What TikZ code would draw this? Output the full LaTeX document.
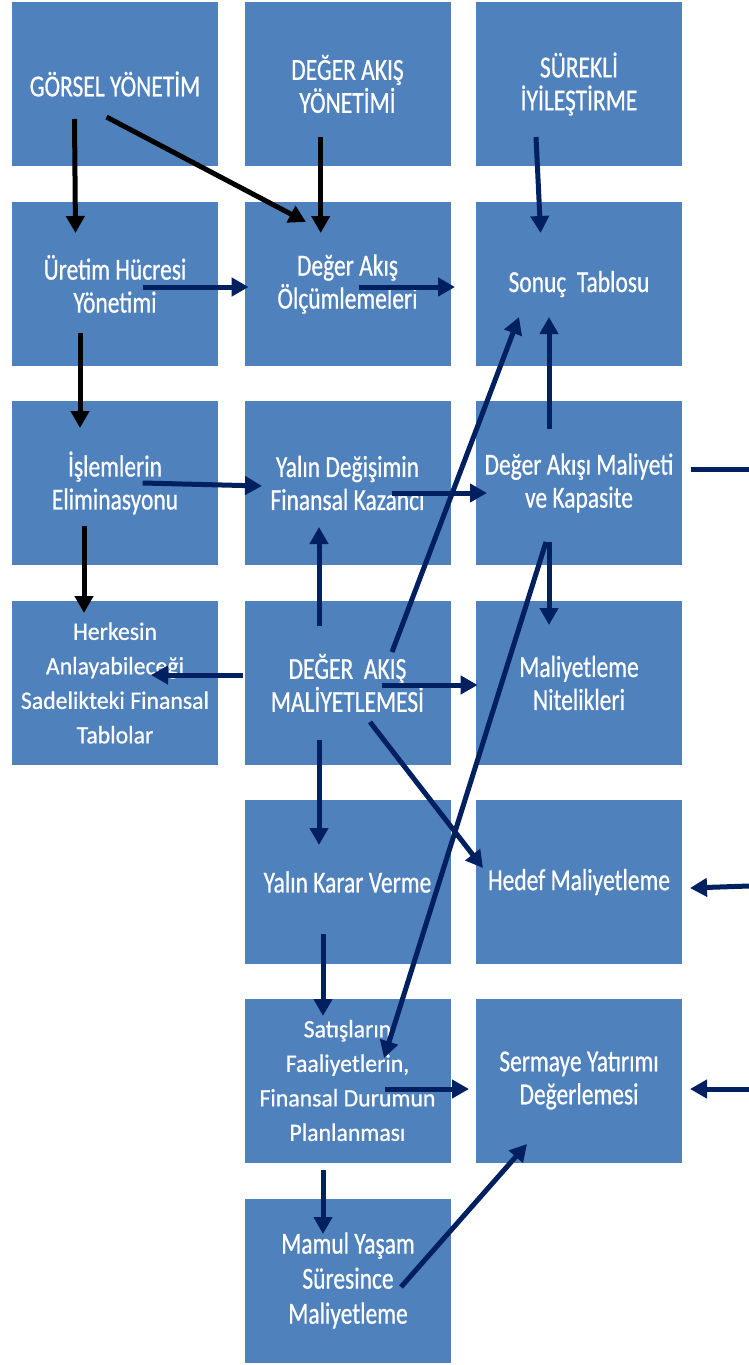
\documentclass[tikz,border=0pt]{standalone}
\usepackage{fontspec}
\setmainfont{Carlito}
\newfontfamily\bigf{Carlito}[FakeStretch=0.77,FakeBold=0.6]
\newfontfamily\smallf{Carlito}[FakeStretch=0.95,FakeBold=0.6]
\usetikzlibrary{arrows.meta}
\definecolor{boxblue}{HTML}{4F81BD}
\definecolor{navy}{HTML}{002060}
\begin{document}
\begin{tikzpicture}[x=1pt,y=-1pt,
 box/.style={fill=boxblue, draw=none, minimum width=206pt, minimum height=164pt, inner sep=0pt, text=white, align=center, font=\bigf\fontsize{30.5}{33}\selectfont},
 smallbox/.style={box, font=\smallf\fontsize{25}{34.5}\selectfont},
 threebox/.style={box, font=\bigf\fontsize{30.5}{35}\selectfont},
 blk/.style={line width=5pt, black, -{Triangle[length=17pt,width=18pt]}},
 nav/.style={line width=5pt, navy, -{Triangle[length=17pt,width=18pt]}},
 navline/.style={line width=5pt, navy},
]
\useasboundingbox (0,0) rectangle (749,1365);
% boxes
\node[box] (g1) at (115,84) {GÖRSEL YÖNETİM};
\node[box] (g2) at (347.5,84) {DEĞER AKIŞ\\YÖNETİMİ};
\node[box] (g3) at (579,84) {SÜREKLİ\\İYİLEŞTİRME};
\node[box] (u1) at (115,284) {Üretim Hücresi\\Yönetimi};
\node[box] (u2) at (347.5,284) {Değer Akış\\Ölçümlemeleri};
\node[box] (u3) at (579,284) {Sonuç\ \ Tablosu};
\node[box] (i1) at (115,483) {İşlemlerin\\Eliminasyonu};
\node[box] (i2) at (347.5,483) {Yalın Değişimin\\Finansal Kazancı};
\node[box] (i3) at (579,483) {Değer Akışı Maliyeti\\ve Kapasite};
\node[smallbox] (h1) at (115,683) {Herkesin\\Anlayabileceği\\Sadelikteki Finansal\\Tablolar};
\node[box] (h2) at (347.5,683) {DEĞER\ \ AKIŞ\\MALİYETLEMESİ};
\node[box] (h3) at (579,683) {Maliyetleme\\Nitelikleri};
\node[box] (y2) at (347.5,882) {Yalın Karar Verme};
\node[box] (y3) at (579,882) {Hedef Maliyetleme};
\node[smallbox] (s2) at (347.5,1080.5) {Satışların\\Faaliyetlerin,\\Finansal Durumun\\Planlanması};
\node[box] (s3) at (579,1080.5) {Sermaye Yatırımı\\Değerlemesi};
\node[threebox] (m2) at (348,1280.5) {Mamul Yaşam\\Süresince\\Maliyetleme};
% connector end points
\coordinate (a1s) at (74.5,119);  \coordinate (a1e) at (75.5,233);
\coordinate (a2s) at (106.5,117); \coordinate (a2e) at (306,222);
\coordinate (a3s) at (320.7,137); \coordinate (a3e) at (320.7,233);
\coordinate (a4s) at (536,137);   \coordinate (a4e) at (540.6,233);
\coordinate (a5s) at (142.7,287); \coordinate (a5e) at (248.6,287);
\coordinate (a6s) at (359,287);   \coordinate (a6e) at (455,287);
\coordinate (a7s) at (80,333);    \coordinate (a7e) at (80,428);
\coordinate (a8s) at (142.7,483); \coordinate (a8e) at (262,486);
\coordinate (a9s) at (391.8,493); \coordinate (a9e) at (487,493);
\coordinate (b1s) at (549,429);   \coordinate (b1e) at (549,317);
\coordinate (b2s) at (691,469);   \coordinate (b2e) at (749,469);
\coordinate (b3s) at (84,526);    \coordinate (b3e) at (84,613);
\coordinate (b4s) at (319,626);   \coordinate (b4e) at (319,527);
\coordinate (b5s) at (392,652);   \coordinate (b5e) at (519,317);
\coordinate (b6s) at (243,675);   \coordinate (b6e) at (151,675);
\coordinate (b7s) at (382,685);   \coordinate (b7e) at (477.6,685);
\coordinate (b8s) at (549,542);   \coordinate (b8e) at (549,625);
\coordinate (b9s) at (546,542);   \coordinate (b9e) at (384,1058);
\coordinate (c1s) at (370,722);   \coordinate (c1e) at (483,868);
\coordinate (c2s) at (319,740);   \coordinate (c2e) at (319,845);
\coordinate (c3s) at (323,934);   \coordinate (c3e) at (323,1016);
\coordinate (c4s) at (385,1089);  \coordinate (c4e) at (469,1089);
\coordinate (c5s) at (323,1170);  \coordinate (c5e) at (323,1234);
\coordinate (c6s) at (401,1287);  \coordinate (c6e) at (527,1144);
\coordinate (c7s) at (749,886);   \coordinate (c7e) at (690,888);
\coordinate (c8s) at (749,1089);  \coordinate (c8e) at (690,1089);
% connectors
\draw[blk] (a1s) -- (a1e);
\draw[blk] (a2s) -- (a2e);
\draw[blk] (a3s) -- (a3e);
\draw[nav] (a4s) -- (a4e);
\draw[nav] (a5s) -- (a5e);
\draw[nav] (a6s) -- (a6e);
\draw[blk] (a7s) -- (a7e);
\draw[nav] (a8s) -- (a8e);
\draw[nav] (a9s) -- (a9e);
\draw[nav] (b1s) -- (b1e);
\draw[navline] (b2s) -- (b2e);
\draw[blk] (b3s) -- (b3e);
\draw[nav] (b4s) -- (b4e);
\draw[nav] (b5s) -- (b5e);
\draw[nav] (b6s) -- (b6e);
\draw[nav] (b7s) -- (b7e);
\draw[nav] (b8s) -- (b8e);
\draw[nav] (b9s) -- (b9e);
\draw[nav] (c1s) -- (c1e);
\draw[nav] (c2s) -- (c2e);
\draw[nav] (c3s) -- (c3e);
\draw[nav] (c4s) -- (c4e);
\draw[nav] (c5s) -- (c5e);
\draw[nav] (c6s) -- (c6e);
\draw[nav] (c7s) -- (c7e);
\draw[nav] (c8s) -- (c8e);
\end{tikzpicture}
\end{document}
